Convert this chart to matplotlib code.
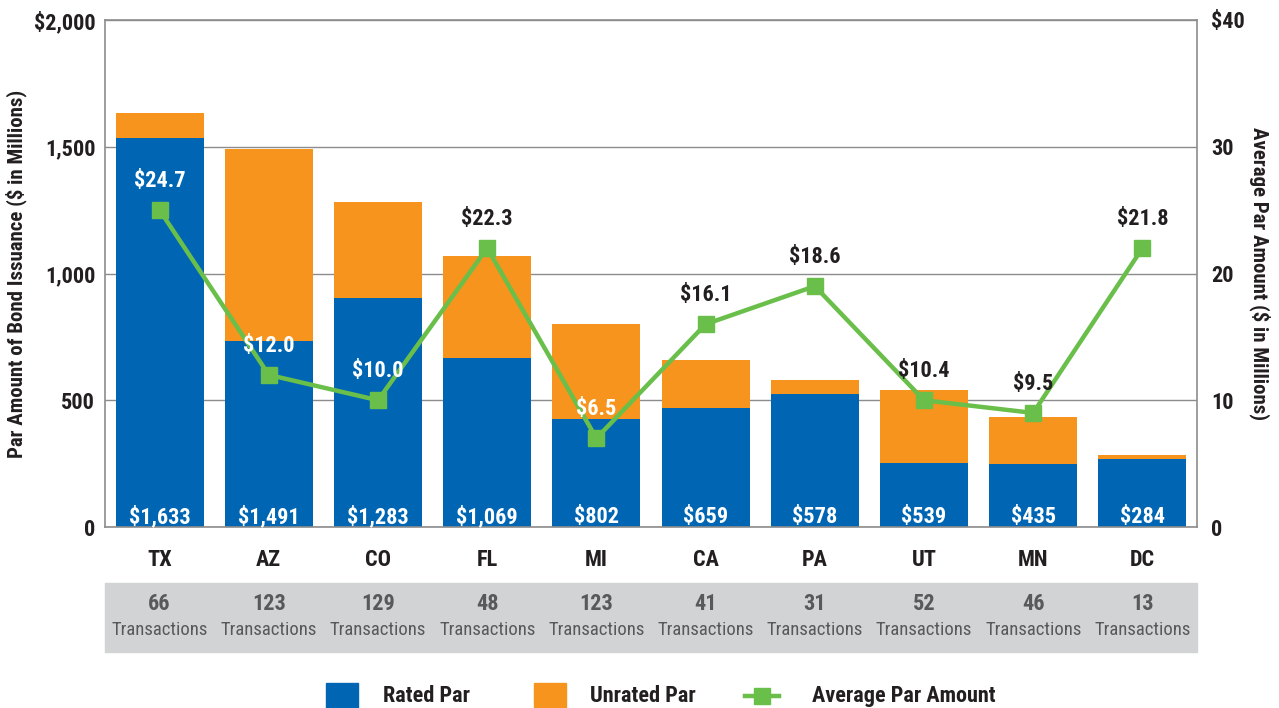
import matplotlib
matplotlib.use("Agg")
import matplotlib.pyplot as plt
from matplotlib.patches import Rectangle
from matplotlib.lines import Line2D
from matplotlib import font_manager
import numpy as np

# pick a narrow font if one is available
_names = {f.name for f in font_manager.fontManager.ttflist}
family = 'DejaVu Sans'
for cand in ['Liberation Sans Narrow', 'Roboto Condensed', 'Open Sans Condensed', 'Noto Sans Condensed', 'DejaVu Sans Condensed']:
    if cand in _names:
        family = cand
        break
plt.rcParams['font.family'] = [family, 'DejaVu Sans']
plt.rcParams['font.stretch'] = 'condensed'

states = ["TX", "AZ", "CO", "FL", "MI", "CA", "PA", "UT", "MN", "DC"]
total_par = [1633, 1491, 1283, 1069, 802, 659, 578, 539, 435, 284]
rated_par = [1534, 734, 903, 667, 426, 469, 525, 252, 249, 268]
avg_par = [25.0, 12.0, 10.0, 22.0, 7.0, 16.0, 19.0, 10.0, 9.0, 22.0]
avg_labels = ["$24.7", "$12.0", "$10.0", "$22.3", "$6.5", "$16.1", "$18.6", "$10.4", "$9.5", "$21.8"]
avg_label_colors = ["white", "white", "white", "#231f20", "white", "#231f20", "#231f20", "#231f20", "#231f20", "#231f20"]
transactions = [66, 123, 129, 48, 123, 41, 31, 52, 46, 13]
total_labels = ["$1,633", "$1,491", "$1,283", "$1,069", "$802", "$659", "$578", "$539", "$435", "$284"]

unrated_par = [t - r for t, r in zip(total_par, rated_par)]

BLUE = "#0066b3"
ORANGE = "#f7941d"
GREEN = "#6abf4b"
DARK = "#231f20"
GRID = "#8c8c8c"
FS = 15

fig = plt.figure(figsize=(12.79, 7.08), dpi=100)
ax = fig.add_axes([105/1279, 1 - 527/708, (1197-105)/1279, (527-20)/708])
x = np.arange(len(states))
w = 0.806
ax.bar(x, rated_par, width=w, color=BLUE, zorder=2)
ax.bar(x, unrated_par, width=w, bottom=rated_par, color=ORANGE, zorder=2)
ax.set_xlim(-0.5, len(states) - 0.5)
ax.set_ylim(0, 2000)
ax.set_yticks([0, 500, 1000, 1500, 2000])
ax.set_yticklabels(["0", "500", "1,000", "1,500", "$2,000"])
ax.grid(axis='y', color=GRID, linewidth=1.0, zorder=0)
ax.set_axisbelow(True)
for s in ax.spines.values():
    s.set_color(GRID)
    s.set_linewidth(1.2)
ax.tick_params(axis='y', length=0, pad=7, labelsize=FS + 1, labelcolor=DARK)
ax.tick_params(axis='x', length=0, pad=16, labelsize=FS + 1, labelcolor=DARK)
for lab in ax.get_yticklabels():
    lab.set_fontweight('bold')
ax.set_xticks(x)
ax.set_xticklabels(states, fontweight='bold')
ax.set_ylabel("Par Amount of Bond Issuance ($ in Millions)", fontsize=FS, fontweight='bold', color=DARK)
ax.yaxis.set_label_coords(-78/1092, 0.5)

for xi, lab in zip(x, total_labels):
    ax.text(xi, 40, lab, ha='center', va='center', color='white', fontsize=FS + 1, fontweight='bold', zorder=5)

ax2 = ax.twinx()
ax2.set_ylim(0, 40)
ax2.set_yticks([0, 10, 20, 30, 40])
ax2.set_yticklabels(["0", "10", "20", "30", "$40"])
ax2.tick_params(axis='y', length=0, pad=10, labelsize=FS + 1, labelcolor=DARK)
for lab in ax2.get_yticklabels():
    lab.set_fontweight('bold')
for s in ax2.spines.values():
    s.set_visible(False)
ax2.plot(x, avg_par, color=GREEN, linewidth=3.2, marker='s', markersize=12, zorder=4)
ax2.set_ylabel("Average Par Amount ($ in Millions)", fontsize=FS, fontweight='bold', color=DARK, rotation=270, va='center')
ax2.yaxis.set_label_coords(1 + 63/1092, 0.5)
for xi, v, lab, c in zip(x, avg_par, avg_labels, avg_label_colors):
    ax2.text(xi, v + 2.3, lab, ha='center', va='center', color=c, fontsize=FS + 1, fontweight='bold', zorder=6)

# transactions band
band_top = 1 - 583/708
band_bot = 1 - 652/708
fig.patches.append(Rectangle((105/1279, band_bot), (1197-105)/1279, band_top - band_bot,
                             transform=fig.transFigure, color="#d1d3d4", zorder=0))
for xi, n in zip(x, transactions):
    xf = fig.transFigure.inverted().transform(ax.transData.transform((xi, 0)))[0]
    fig.text(xf, 1 - 604/708, str(n), ha='center', va='center', fontsize=FS + 1, fontweight='bold', color="#58595b")
    fig.text(xf, 1 - 630/708, "Transactions", ha='center', va='center', fontsize=13.5, color="#58595b")

# legend
ly = 1 - 696/708
sq_w = 32/1279
sq_h = 26/708
fig.patches.append(Rectangle((326/1279, ly - sq_h/2), sq_w, sq_h, transform=fig.transFigure, color=BLUE))
fig.text(383/1279, ly, "Rated Par", ha='left', va='center', fontsize=FS + 1, fontweight='bold', color=DARK)
fig.patches.append(Rectangle((534/1279, ly - sq_h/2), sq_w, sq_h, transform=fig.transFigure, color=ORANGE))
fig.text(590/1279, ly, "Unrated Par", ha='left', va='center', fontsize=FS + 1, fontweight='bold', color=DARK)
fig.lines.append(Line2D([745/1279, 779/1279], [ly, ly], transform=fig.transFigure, color=GREEN, linewidth=3.2))
fig.lines.append(Line2D([762/1279], [ly], transform=fig.transFigure, color=GREEN, marker='s', markersize=12, linestyle='none'))
fig.text(812/1279, ly, "Average Par Amount", ha='left', va='center', fontsize=FS + 1, fontweight='bold', color=DARK)

fig.savefig("out.png", dpi=100)
